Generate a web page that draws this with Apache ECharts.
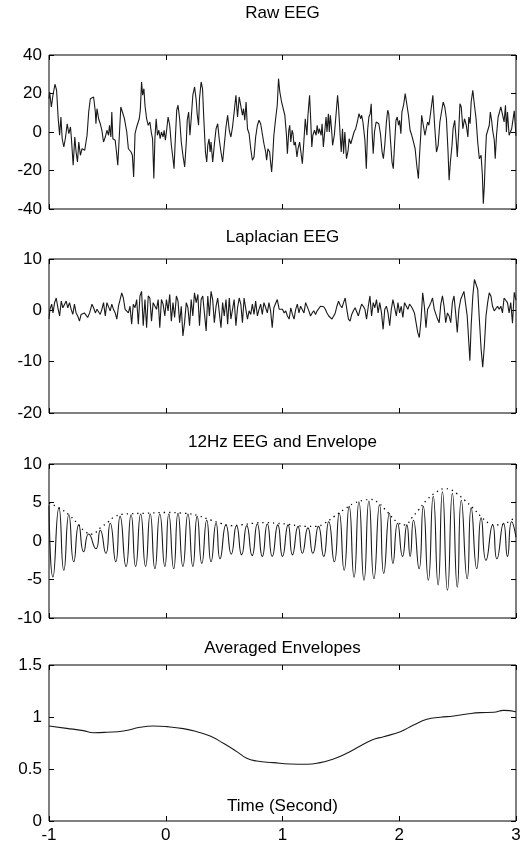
<!DOCTYPE html>
<html>
<head>
<meta charset="utf-8">
<script src="https://cdn.jsdelivr.net/npm/echarts@6/dist/echarts.min.js"></script>
<style>html,body{margin:0;padding:0;background:#fff}#c{width:528px;height:849px}</style>
</head>
<body>
<div id="c"></div>
<script>
// ---------- DATA (time in seconds, value) ----------
const panelTitles = ['Raw EEG', 'Laplacian EEG', '12Hz EEG and Envelope', 'Averaged Envelopes'];
const xAxisName = 'Time (Second)';
const xTicks = [-1, 0, 1, 2, 3];
const rawTicks = [-40, -20, 0, 20, 40];
const lapTicks = [-20, -10, 0, 10];
const bandTicks = [-10, -5, 0, 5, 10];
const avgTicks = [0, 0.5, 1, 1.5];

const rawEEG = [
[-1.000,17.3],[-0.994,20.8],[-0.980,13.0],[-0.966,19.1],[-0.949,24.8],[-0.935,21.7],[-0.921,6.9],[-0.909,-1.7],[-0.898,7.8],[-0.887,-3.5],
[-0.873,-7.8],[-0.858,-2.6],[-0.844,4.3],[-0.830,-0.9],[-0.816,2.6],[-0.807,-4.3],[-0.793,-17.3],[-0.779,-2.6],[-0.768,-10.4],[-0.756,-15.6],
[-0.745,-5.2],[-0.731,-12.1],[-0.717,-8.7],[-0.694,-9.5],[-0.674,-1.7],[-0.660,10.4],[-0.646,17.3],[-0.632,16.5],[-0.618,18.2],[-0.603,10.4],
[-0.598,4.3],[-0.589,12.1],[-0.575,6.9],[-0.561,4.3],[-0.547,0.9],[-0.533,-5.2],[-0.518,-2.6],[-0.504,0.9],[-0.490,-1.7],[-0.482,3.5],
[-0.470,-2.6],[-0.462,10.4],[-0.453,-3.5],[-0.433,-4.3],[-0.422,-10.4],[-0.411,-17.3],[-0.399,-3.5],[-0.385,13.0],[-0.371,10.4],[-0.354,6.9],
[-0.334,0],[-0.320,-8.7],[-0.297,-10.4],[-0.286,-12.1],[-0.275,-23.4],[-0.263,-0.9],[-0.249,2.6],[-0.235,1.7],[-0.227,6.9],[-0.218,11.3],
[-0.207,26.0],[-0.198,19.1],[-0.187,22.5],[-0.178,13.9],[-0.164,6.9],[-0.150,3.5],[-0.136,5.2],[-0.122,-0.9],[-0.113,-3.5],[-0.102,-24.2],
[-0.093,-3.5],[-0.082,6.9],[-0.071,-1.7],[-0.059,0.9],[-0.048,-3.5],[-0.037,0],[-0.023,-2.6],[-0.014,0.9],[-0.003,-4.3],[0.009,1.7],
[0.020,7.8],[0.034,3.5],[0.048,-6.9],[0.062,-13.9],[0.071,-19.1],[0.082,-3.5],[0.094,11.3],[0.105,13.9],[0.119,6.9],[0.133,-5.2],
[0.147,-12.1],[0.162,-18.2],[0.176,-5.2],[0.184,6.1],[0.196,10.4],[0.207,-1.7],[0.218,6.9],[0.232,19.1],[0.247,23.4],[0.261,16.5],
[0.269,9.5],[0.281,3.5],[0.289,17.3],[0.303,26.0],[0.315,22.5],[0.326,6.9],[0.340,-10.4],[0.351,-15.6],[0.360,-6.9],[0.371,-3.5],
[0.380,-10.4],[0.388,-5.2],[0.402,-15.6],[0.417,-6.1],[0.431,1.7],[0.445,4.3],[0.459,-4.3],[0.473,-10.4],[0.487,-15.6],[0.501,-6.9],
[0.516,2.6],[0.530,8.7],[0.544,0.9],[0.558,-2.6],[0.572,2.6],[0.586,10.4],[0.601,19.1],[0.615,7.8],[0.629,18.2],[0.643,17.3],
[0.657,8.7],[0.666,12.1],[0.677,6.1],[0.688,15.6],[0.700,1.7],[0.714,-0.9],[0.728,-8.7],[0.742,-14.7],[0.756,-13.0],[0.770,-2.6],
[0.785,3.5],[0.799,6.1],[0.813,4.3],[0.827,-0.9],[0.841,-6.1],[0.856,-10.4],[0.864,-14.7],[0.875,-8.7],[0.890,-10.4],[0.898,-15.6],
[0.907,-20.8],[0.915,-13.9],[0.926,-1.7],[0.941,6.9],[0.955,13.9],[0.966,27.7],[0.977,20.8],[0.992,15.6],[1.006,16.5],[1.020,8.7],
[1.034,-1.7],[1.042,-11.3],[1.054,0.9],[1.062,3.5],[1.071,-5.2],[1.082,0.9],[1.090,-0.9],[1.099,-6.9],[1.110,-5.2],[1.124,-13.0],
[1.133,-8.7],[1.147,-5.2],[1.161,-12.1],[1.170,-16.5],[1.181,-6.9],[1.195,6.9],[1.209,-1.7],[1.218,8.7],[1.232,19.1],[1.240,8.7],
[1.251,-7.8],[1.260,-1.7],[1.274,0.9],[1.288,-1.7],[1.297,3.5],[1.308,-0.9],[1.316,1.7],[1.331,-1.7],[1.339,4.3],[1.350,-7.8],
[1.359,-1.7],[1.373,7.8],[1.381,0],[1.393,9.5],[1.401,0],[1.410,8.7],[1.421,0.9],[1.429,-6.9],[1.444,-1.7],[1.458,8.7],
[1.472,19.1],[1.480,13.0],[1.494,-1.7],[1.503,-10.4],[1.514,1.7],[1.523,-11.3],[1.534,0],[1.548,-13.9],[1.562,-9.5],[1.571,-3.5],
[1.585,-6.1],[1.599,-5.2],[1.613,0],[1.627,1.7],[1.641,5.2],[1.655,9.5],[1.670,6.9],[1.678,8.7],[1.689,5.2],[1.698,4.3],
[1.706,-4.3],[1.718,-19.1],[1.729,0.9],[1.740,7.8],[1.751,9.5],[1.760,14.7],[1.768,-0.9],[1.777,-11.3],[1.788,0],[1.802,5.2],
[1.811,6.1],[1.825,4.3],[1.839,-0.9],[1.853,-10.4],[1.864,-13.9],[1.876,-6.9],[1.890,5.2],[1.901,11.3],[1.910,9.5],[1.924,-3.5],
[1.938,-15.6],[1.949,-19.1],[1.961,-5.2],[1.972,6.1],[1.983,7.8],[1.994,3.5],[2.003,6.1],[2.014,-0.9],[2.023,10.4],[2.037,13.9],
[2.051,19.9],[2.065,19.1],[2.079,8.7],[2.093,0.9],[2.107,-1.7],[2.122,-5.2],[2.136,-8.7],[2.150,-17.3],[2.164,-24.2],[2.172,-13.9],
[2.184,-1.7],[2.192,8.7],[2.206,7.8],[2.220,-1.7],[2.234,2.6],[2.243,5.2],[2.254,3.5],[2.266,8.7],[2.277,9.5],[2.288,19.1],
[2.297,9.5],[2.305,1.7],[2.319,-10.4],[2.333,-6.9],[2.348,5.2],[2.362,10.4],[2.376,15.6],[2.390,13.0],[2.404,6.9],[2.418,-10.4],
[2.427,-25.1],[2.438,-15.6],[2.452,-6.9],[2.461,1.7],[2.475,6.1],[2.489,-5.2],[2.497,-13.0],[2.509,0],[2.520,14.7],[2.531,13.0],
[2.545,1.7],[2.559,6.9],[2.574,3.5],[2.588,-2.6],[2.596,7.8],[2.607,4.3],[2.616,15.6],[2.630,21.7],[2.644,13.9],[2.658,6.9],
[2.672,-5.2],[2.686,-13.9],[2.701,-12.1],[2.712,-22.5],[2.720,-37.2],[2.729,-27.7],[2.737,-13.9],[2.746,-1.7],[2.757,-0.9],[2.771,3.5],
[2.780,10.4],[2.791,6.1],[2.800,0.9],[2.814,-4.3],[2.822,-13.9],[2.833,-1.7],[2.847,7.8],[2.859,10.4],[2.870,13.0],[2.884,13.0],
[2.898,5.2],[2.910,13.9],[2.918,0],[2.927,10.4],[2.941,-1.7],[2.955,-0.9],[2.963,1.7],[2.985,11],[3.000,-2]
];

const laplacianEEG = [
[-1.000,-1.7],[-0.992,0.2],[-0.977,1.2],[-0.966,-0.5],[-0.952,1.5],[-0.938,2.4],[-0.924,0.5],[-0.909,-1.1],[-0.895,1.8],[-0.881,0.5],
[-0.867,0.8],[-0.853,1.8],[-0.839,0.5],[-0.824,1.5],[-0.810,0.2],[-0.796,-0.8],[-0.782,1.2],[-0.768,-0.5],[-0.754,-1.1],[-0.739,-2.1],
[-0.725,-0.8],[-0.711,-1.1],[-0.697,-0.5],[-0.683,-0.8],[-0.669,-1.4],[-0.652,-0.5],[-0.632,1.2],[-0.618,0.5],[-0.603,-0.5],[-0.589,0.2],
[-0.575,0.5],[-0.561,-0.8],[-0.547,0.2],[-0.533,1.5],[-0.518,-1.1],[-0.504,1.5],[-0.490,1.8],[-0.476,-0.1],[-0.462,1.2],[-0.448,0.2],
[-0.433,-0.5],[-0.419,-1.7],[-0.405,0.8],[-0.391,2.1],[-0.377,3.4],[-0.363,2.4],[-0.348,0.2],[-0.334,0.2],[-0.320,-0.5],[-0.306,0.8],
[-0.292,-2.7],[-0.278,1.2],[-0.263,0.5],[-0.249,2.1],[-0.235,-2.7],[-0.221,2.8],[-0.207,3.7],[-0.193,-3.0],[-0.178,2.1],[-0.164,-3.4],
[-0.150,2.8],[-0.136,2.4],[-0.122,-2.1],[-0.108,1.5],[-0.093,1.8],[-0.079,0.2],[-0.065,2.1],[-0.051,-3.4],[-0.037,2.1],[-0.023,1.2],
[-0.008,-1.1],[0.006,2.1],[0.020,-0.1],[0.034,3.1],[0.048,-2.1],[0.062,1.5],[0.076,-1.4],[0.091,2.8],[0.105,1.8],[0.119,-2.4],
[0.133,0.8],[0.147,-5.0],[0.161,-2.4],[0.176,1.5],[0.190,0.5],[0.204,-3.0],[0.218,2.1],[0.232,-1.1],[0.246,3.4],[0.261,1.5],
[0.275,3.1],[0.289,-3.0],[0.303,2.1],[0.317,2.8],[0.331,-0.5],[0.346,-4.0],[0.360,2.8],[0.374,-1.1],[0.388,3.7],[0.402,2.1],
[0.416,-2.4],[0.431,0.8],[0.445,2.4],[0.459,-0.5],[0.473,-3.4],[0.487,1.5],[0.501,-1.1],[0.516,2.1],[0.530,-2.7],[0.544,2.4],
[0.558,-1.7],[0.572,0.2],[0.586,2.1],[0.601,-3.0],[0.615,0.5],[0.629,2.4],[0.643,1.2],[0.657,-2.4],[0.671,2.4],[0.686,0.2],
[0.700,-1.7],[0.714,-0.1],[0.728,-0.8],[0.742,1.2],[0.756,-0.8],[0.770,1.8],[0.785,-1.1],[0.799,0.2],[0.813,1.2],[0.827,-0.8],
[0.841,1.5],[0.856,0.5],[0.870,-0.5],[0.884,1.5],[0.898,-0.1],[0.912,-3.4],[0.926,0.5],[0.941,0.8],[0.955,2.1],[0.972,0.2],
[0.986,-0.1],[1.000,0.2],[1.014,-0.5],[1.028,-0.1],[1.042,-1.1],[1.057,-1.7],[1.071,0.5],[1.085,-0.8],[1.099,-1.7],[1.113,0.2],
[1.127,1.2],[1.141,-0.5],[1.155,0.8],[1.170,0.5],[1.184,-0.5],[1.198,1.5],[1.212,1.2],[1.226,-0.1],[1.240,-1.1],[1.254,-0.5],
[1.268,-0.1],[1.283,-0.8],[1.297,-0.1],[1.311,0.2],[1.325,0.8],[1.339,1.0],[1.353,0.7],[1.367,0.2],[1.381,-0.5],[1.396,-1.1],
[1.410,-1.4],[1.424,-1.7],[1.438,-1.4],[1.452,-0.5],[1.466,0.8],[1.480,1.8],[1.494,1.0],[1.509,0.5],[1.523,1.5],[1.537,2.4],
[1.551,0.2],[1.565,-1.7],[1.579,-2.1],[1.593,-0.8],[1.607,-0.1],[1.622,0.5],[1.636,0.8],[1.650,-1.1],[1.664,0.2],[1.678,1.2],
[1.692,0.8],[1.706,0.2],[1.720,-1.7],[1.735,0.8],[1.749,2.8],[1.763,-1.1],[1.777,1.5],[1.791,0.5],[1.805,2.1],[1.819,-0.5],
[1.833,1.5],[1.848,-0.5],[1.862,-3.7],[1.876,0.2],[1.890,0.8],[1.904,-0.5],[1.918,-3.0],[1.932,0.2],[1.946,2.1],[1.961,1.8],
[1.975,-1.1],[1.989,1.5],[2.003,-0.5],[2.017,0.8],[2.031,-1.4],[2.045,1.5],[2.059,1.8],[2.074,0.2],[2.088,1.2],[2.102,0.8],
[2.116,0.2],[2.130,-0.5],[2.144,-2.4],[2.158,-4.3],[2.172,-5.3],[2.187,-1.7],[2.201,3.4],[2.215,0.8],[2.229,-3.4],[2.243,0.2],
[2.257,0.8],[2.271,1.5],[2.285,2.4],[2.300,0.2],[2.314,0.5],[2.328,-1.7],[2.342,-2.4],[2.356,1.2],[2.370,2.8],[2.384,0.8],
[2.398,-2.4],[2.413,-0.5],[2.427,-1.1],[2.441,-2.4],[2.455,1.5],[2.469,2.8],[2.483,-0.5],[2.497,-4.3],[2.511,0.2],[2.526,2.1],
[2.540,2.4],[2.554,3.7],[2.568,3.4],[2.582,-1.1],[2.596,-6.3],[2.605,-9.8],[2.616,-3.0],[2.630,2.8],[2.644,6.0],[2.658,6.3],
[2.672,4.1],[2.686,-1.7],[2.701,-7.5],[2.715,-11.1],[2.729,-6.9],[2.743,-1.1],[2.757,1.5],[2.771,3.4],[2.785,2.8],[2.799,0.8],
[2.814,-0.1],[2.828,0.2],[2.842,0.8],[2.856,0.2],[2.870,0.8],[2.884,-0.5],[2.898,2.4],[2.913,2.1],[2.927,1.5],[2.941,-0.5],
[2.955,1.5],[2.970,-2.5],[2.985,3.5],[3.000,2.0]
];

// 12 Hz band: successive crests and troughs
const band12Hz = [
[-1.000,4.6],[-0.966,-4.7],[-0.915,4.3],[-0.873,-3.8],[-0.830,3.4],[-0.788,-2.7],[-0.745,2.1],[-0.703,-1.4],[-0.660,0.9],[-0.598,-1.0],
[-0.561,1.4],[-0.513,-1.6],[-0.476,2.3],[-0.428,-2.7],[-0.391,3.2],[-0.340,-3.3],[-0.297,3.4],[-0.258,-3.3],[-0.215,3.5],[-0.173,-3.3],
[-0.133,3.5],[-0.093,-3.6],[-0.051,3.5],[-0.008,-3.3],[0.026,3.5],[0.068,-3.6],[0.105,3.6],[0.147,-3.3],[0.190,3.5],[0.232,-3.3],
[0.269,3.2],[0.309,-2.9],[0.351,2.7],[0.388,-2.7],[0.431,2.3],[0.465,-2.3],[0.516,2.1],[0.561,-1.7],[0.606,2.0],[0.650,-1.8],
[0.694,2.0],[0.740,-1.9],[0.784,2.2],[0.827,-2.0],[0.870,2.2],[0.912,-2.0],[0.960,2.1],[1.000,-2.0],[1.048,2.1],[1.085,-1.8],
[1.133,1.9],[1.170,-1.6],[1.218,1.7],[1.260,-1.6],[1.308,1.9],[1.353,-2.0],[1.396,2.5],[1.444,-2.7],[1.486,3.6],[1.528,-3.8],
[1.571,4.5],[1.613,-4.7],[1.655,5.1],[1.698,-5.1],[1.740,5.2],[1.783,-4.9],[1.831,4.7],[1.867,-4.2],[1.915,3.6],[1.946,-2.9],
[1.986,2.3],[2.028,-2.0],[2.065,2.1],[2.093,-2.0],[2.122,2.7],[2.170,-3.6],[2.206,4.5],[2.249,-5.1],[2.291,5.8],[2.333,-5.7],
[2.370,6.4],[2.413,-6.4],[2.455,6.2],[2.497,-6.0],[2.531,5.3],[2.582,-4.9],[2.616,4.3],[2.664,-3.6],[2.701,3.0],[2.743,-2.5],
[2.800,2.1],[2.836,-2.3],[2.893,2.3],[2.927,-2.0],[2.963,2.5],[3.000,0.5]
];

const envelope12Hz = [
[-1.000,4.9],[-0.915,4.3],[-0.830,3.4],[-0.745,2.1],[-0.688,1.2],[-0.632,0.9],[-0.561,1.7],[-0.490,2.5],[-0.433,3.2],[-0.348,3.5],
[-0.178,3.6],[-0.008,3.7],[0.162,3.6],[0.275,3.3],[0.388,2.7],[0.473,2.3],[0.558,2.0],[0.650,2.1],[0.750,2.3],[0.850,2.4],
[0.950,2.3],[1.034,2.2],[1.120,2.0],[1.200,1.9],[1.290,1.9],[1.360,2.3],[1.444,3.2],[1.528,4.1],[1.613,4.9],[1.698,5.3],
[1.754,5.4],[1.825,4.9],[1.896,3.8],[1.980,2.5],[2.051,2.1],[2.107,3.0],[2.164,4.0],[2.234,5.3],[2.305,6.2],[2.390,6.8],
[2.432,6.7],[2.489,6.2],[2.560,5.3],[2.630,4.3],[2.700,3.2],[2.770,2.3],[2.840,2.1],[2.900,2.2],[2.955,2.7],[3.000,3.0]
];

const averagedEnvelope = [
[-1.000,0.913],[-0.849,0.891],[-0.706,0.869],[-0.620,0.849],[-0.506,0.853],[-0.363,0.865],[-0.220,0.901],[-0.106,0.913],[0.009,0.907],[0.151,0.888],
[0.266,0.859],[0.380,0.817],[0.494,0.747],[0.609,0.667],[0.694,0.603],[0.780,0.577],[0.923,0.561],[1.066,0.548],[1.209,0.545],[1.323,0.561],
[1.437,0.596],[1.551,0.651],[1.666,0.721],[1.766,0.779],[1.866,0.811],[2.009,0.859],[2.123,0.923],[2.237,0.978],[2.351,0.997],[2.466,1.010],
[2.580,1.029],[2.694,1.042],[2.809,1.045],[2.894,1.064],[3.000,1.051]
];

// ---------- CHART ----------
const FONT = "'Liberation Sans', Arial, Helvetica, sans-serif";
const FS = 17;
const gridBoxes = [
  {top: 55, height: 154},
  {top: 259, height: 154},
  {top: 464, height: 154},
  {top: 665, height: 156}
];
const titleY = [13, 237, 442, 648];
const yTickSets = [rawTicks, lapTicks, bandTicks, avgTicks];

const grid = gridBoxes.map(g => ({
  left: 49, right: 12, top: g.top, height: g.height,
  show: true, borderColor: '#000', borderWidth: 1, backgroundColor: 'transparent',
  containLabel: false
}));

const tickStyle = {show: true, inside: true, length: 5, lineStyle: {color: '#000', width: 1}};
const labelStyle = {color: '#000', fontFamily: FONT, fontSize: FS};
const noLine = {show: false, onZero: false};

const xAxis = [];
const yAxis = [];
gridBoxes.forEach((g, i) => {
  const last = i === gridBoxes.length - 1;
  xAxis.push({
    type: 'value', gridIndex: i, position: 'bottom',
    min: xTicks[0], max: xTicks[xTicks.length - 1], interval: xTicks[1] - xTicks[0],
    axisLine: noLine, splitLine: {show: false}, axisTick: tickStyle,
    axisLabel: Object.assign({show: last, margin: 6, showMinLabel: true, showMaxLabel: true}, labelStyle)
  });
  xAxis.push({
    type: 'value', gridIndex: i, position: 'top',
    min: xTicks[0], max: xTicks[xTicks.length - 1], interval: xTicks[1] - xTicks[0],
    axisLine: noLine, splitLine: {show: false}, axisTick: tickStyle,
    axisLabel: {show: false}
  });
  const t = yTickSets[i];
  yAxis.push({
    type: 'value', gridIndex: i, position: 'left',
    min: t[0], max: t[t.length - 1], interval: t[1] - t[0],
    axisLine: noLine, splitLine: {show: false}, axisTick: tickStyle,
    axisLabel: Object.assign({show: true, margin: 7, showMinLabel: true, showMaxLabel: true}, labelStyle)
  });
  yAxis.push({
    type: 'value', gridIndex: i, position: 'right',
    min: t[0], max: t[t.length - 1], interval: t[1] - t[0],
    axisLine: noLine, splitLine: {show: false}, axisTick: tickStyle,
    axisLabel: {show: false}
  });
});

const lineBase = {type: 'line', showSymbol: false, symbol: 'none', silent: true, animation: false};
const series = [
  Object.assign({}, lineBase, {data: rawEEG, xAxisIndex: 0, yAxisIndex: 0,
    lineStyle: {color: '#1a1a1a', width: 1.1}}),
  Object.assign({}, lineBase, {data: laplacianEEG, xAxisIndex: 2, yAxisIndex: 2,
    lineStyle: {color: '#1a1a1a', width: 1.1}}),
  Object.assign({}, lineBase, {data: band12Hz, xAxisIndex: 4, yAxisIndex: 4, smooth: 0.6,
    lineStyle: {color: '#1a1a1a', width: 1.1}}),
  Object.assign({}, lineBase, {data: envelope12Hz, xAxisIndex: 4, yAxisIndex: 4, smooth: 0.5,
    lineStyle: {color: '#000', width: 1.3, type: [1.3, 4]}}),
  Object.assign({}, lineBase, {data: averagedEnvelope, xAxisIndex: 6, yAxisIndex: 6, smooth: 0.5,
    lineStyle: {color: '#1a1a1a', width: 1.1}})
];

const plotCenterX = 49 + (528 - 12 - 49) / 2;
const graphic = panelTitles.map((txt, i) => ({
  type: 'text', x: plotCenterX, y: titleY[i], silent: true,
  style: {text: txt, fill: '#000', fontFamily: FONT, fontSize: FS, align: 'center', verticalAlign: 'middle'}
}));
graphic.push({
  type: 'text', x: plotCenterX, y: 806, silent: true,
  style: {text: xAxisName, fill: '#000', fontFamily: FONT, fontSize: FS, align: 'center', verticalAlign: 'middle'}
});

const chart = echarts.init(document.getElementById('c'), null, {renderer: 'canvas'});
chart.setOption({
  backgroundColor: '#fff',
  animation: false,
  grid: grid,
  xAxis: xAxis,
  yAxis: yAxis,
  series: series,
  graphic: graphic
});
</script>
</body>
</html>
